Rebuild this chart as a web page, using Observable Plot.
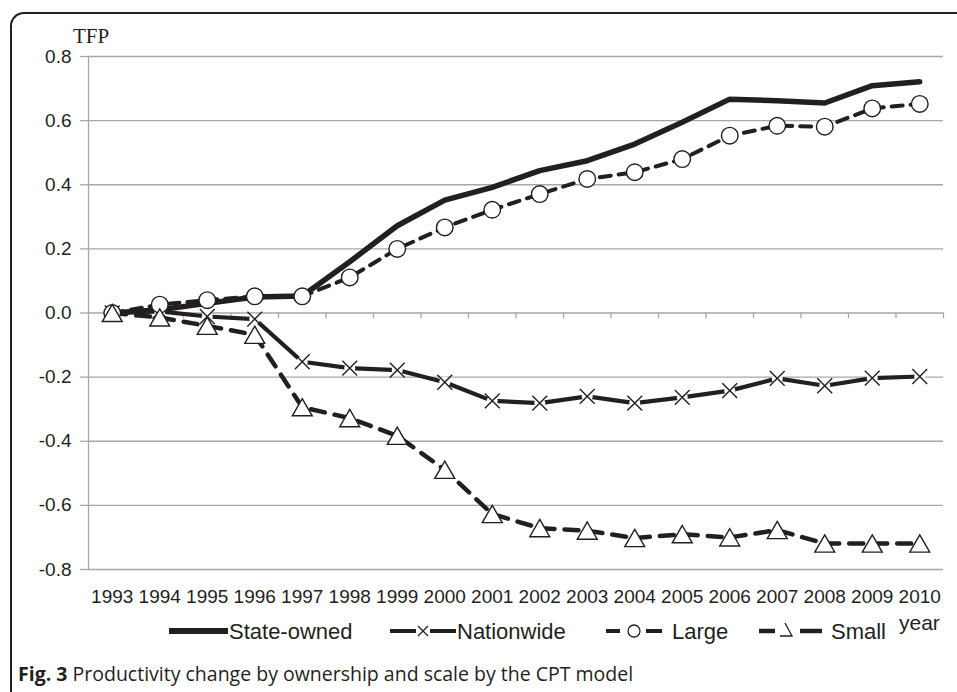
<!DOCTYPE html>
<html><head><meta charset="utf-8">
<script src="https://cdn.jsdelivr.net/npm/d3@7"></script>
<script src="https://cdn.jsdelivr.net/npm/@observablehq/plot@0.6"></script>
<style>
body{margin:0;background:#fff;}
#wrap{position:relative;width:957px;height:692px;overflow:hidden;background:#fff;font-family:"Liberation Sans",Arial,sans-serif;color:#231f20;}
#frame{position:absolute;left:10px;top:12px;width:980px;height:720px;border-top:2px solid #231f20;border-left:2px solid #231f20;border-top-left-radius:14px;box-sizing:border-box;}
#chart{position:absolute;left:0;top:0;}
#overlay{position:absolute;left:0;top:0;}
#caption{position:absolute;left:18px;top:663px;font-family:"Open Sans",sans-serif;font-size:19.5px;line-height:22px;color:#231f20;white-space:nowrap;}
</style></head>
<body>
<div id="wrap">
  <div id="frame"></div>
  <div id="chart"></div>
  <svg id="overlay" width="957" height="692"></svg>
  <div id="caption"><b>Fig. 3</b> Productivity change by ownership and scale by the CPT model</div>
</div>
<script>
const years = [1993,1994,1995,1996,1997,1998,1999,2000,2001,2002,2003,2004,2005,2006,2007,2008,2009,2010];
const stateOwned = [0,0.01,0.03,0.05,0.053,0.16,0.272,0.352,0.392,0.444,0.475,0.527,0.595,0.667,0.662,0.655,0.709,0.721];
const nationwide = [0,0.005,-0.011,-0.019,-0.152,-0.172,-0.178,-0.216,-0.274,-0.281,-0.26,-0.281,-0.263,-0.242,-0.204,-0.227,-0.203,-0.198];
const large = [0,0.026,0.04,0.052,0.052,0.111,0.2,0.267,0.322,0.371,0.418,0.439,0.48,0.553,0.584,0.581,0.638,0.652];
const small = [0,-0.014,-0.04,-0.068,-0.294,-0.328,-0.383,-0.489,-0.627,-0.671,-0.679,-0.702,-0.69,-0.7,-0.677,-0.719,-0.719,-0.719];
const yTicks = [-0.8,-0.6,-0.4,-0.2,0,0.2,0.4,0.6,0.8];
const seriesNames = ["State-owned","Nationwide","Large","Small"];
const yLabel = "TFP";
const xLabel = "year";

const rows = (vals) => years.map((yr,i) => ({year: yr, v: vals[i]}));
const S = rows(stateOwned), N = rows(nationwide), L = rows(large), M = rows(small);
const bounds = [years[0]-0.5, ...years.map(y => y+0.5)];
const ink = "#231f20", grid = "#a7a7a7";

const chart = Plot.plot({
  width: 957, height: 612,
  marginLeft: 88, marginRight: 14, marginTop: 56, marginBottom: 43,
  x: {type: "linear", domain: [years[0]-0.5, years[years.length-1]+0.5], axis: null, label: null},
  y: {domain: [-0.8, 0.8], axis: null, label: null},
  style: {fontFamily: "Liberation Sans, Arial, sans-serif", background: "transparent"},
  marks: [
    Plot.gridY(yTicks, {stroke: grid, strokeOpacity: 1, strokeWidth: 1.3}),
    Plot.axisY(yTicks, {label: null, tickSize: 8, tickPadding: 9, stroke: grid, strokeWidth: 1.3, fill: ink, fontSize: 19, tickFormat: d => d.toFixed(1)}),
    Plot.ruleX([bounds[0]], {stroke: grid, strokeWidth: 1.3}),
    Plot.ruleX(bounds.slice(1), {y1: 0, y2: -0.018, stroke: grid, strokeWidth: 1.3}),
    Plot.axisX(years, {label: null, tickSize: 0, tickPadding: 20, fill: ink, fontSize: 19, tickFormat: d => String(d)}),
    Plot.line(S, {x: "year", y: "v", stroke: ink, strokeWidth: 5.5, strokeLinejoin: "round"}),
    Plot.line(N, {x: "year", y: "v", stroke: ink, strokeWidth: 4.2}),
    Plot.line(L, {x: "year", y: "v", stroke: ink, strokeWidth: 4, strokeDasharray: "11,8"}),
    Plot.line(M, {x: "year", y: "v", stroke: ink, strokeWidth: 4.5, strokeDasharray: "14,10"}),
    Plot.dot(N, {x: "year", y: "v", r: 5.5, fill: "white", stroke: "none"}),
    Plot.dot(N, {x: "year", y: "v", symbol: "times", r: 6.8, stroke: ink, strokeWidth: 1.4}),
    Plot.dot(L, {x: "year", y: "v", r: 8.3, fill: "white", stroke: ink, strokeWidth: 1.4}),
    Plot.dot(M, {x: "year", y: "v", symbol: "triangle", r: 7.4, dy: 2.8, fill: "white", stroke: ink, strokeWidth: 1.4})
  ]
});
document.getElementById("chart").appendChild(chart);

// overlay: axis titles and legend
const ov = d3.select("#overlay");
ov.append("text").attr("x", 73).attr("y", 43).attr("font-family", "Liberation Serif, Times New Roman, serif")
  .attr("font-size", 21).attr("fill", ink).text(yLabel);
ov.append("text").attr("x", 899).attr("y", 630).attr("font-family", "Liberation Sans, Arial, sans-serif")
  .attr("font-size", 21).attr("fill", ink).text(xLabel);

const ly = 631, ty = 639;
const lg = ov.append("g").attr("stroke", ink).attr("fill", "none");
// State-owned
lg.append("line").attr("x1", 169).attr("x2", 228).attr("y1", ly).attr("y2", ly).attr("stroke-width", 6);
// Nationwide
lg.append("line").attr("x1", 390).attr("x2", 416).attr("y1", ly).attr("y2", ly).attr("stroke-width", 4);
lg.append("line").attr("x1", 430).attr("x2", 456).attr("y1", ly).attr("y2", ly).attr("stroke-width", 4);
lg.append("path").attr("d", `M${418},${ly-5}L${428},${ly+5}M${418},${ly+5}L${428},${ly-5}`).attr("stroke-width", 1.3);
// Large
lg.append("line").attr("x1", 606).attr("x2", 620).attr("y1", ly).attr("y2", ly).attr("stroke-width", 4);
lg.append("line").attr("x1", 646).attr("x2", 662).attr("y1", ly).attr("y2", ly).attr("stroke-width", 4);
lg.append("circle").attr("cx", 634).attr("cy", ly).attr("r", 6).attr("fill", "white").attr("stroke-width", 1.3);
// Small
lg.append("line").attr("x1", 759).attr("x2", 775).attr("y1", ly).attr("y2", ly).attr("stroke-width", 4.5);
lg.append("line").attr("x1", 800).attr("x2", 822).attr("y1", ly).attr("y2", ly).attr("stroke-width", 4.5);
lg.append("path").attr("d", `M${785},${ly-8}L${792},${ly+5}L${780},${ly+5}`).attr("stroke-width", 1.3);

const tx = [229, 457, 672, 831];
seriesNames.forEach((n, i) => {
  ov.append("text").attr("x", tx[i]).attr("y", ty).attr("font-family", "Liberation Sans, Arial, sans-serif")
    .attr("font-size", 22).attr("fill", ink).text(n);
});
</script>
</body></html>
